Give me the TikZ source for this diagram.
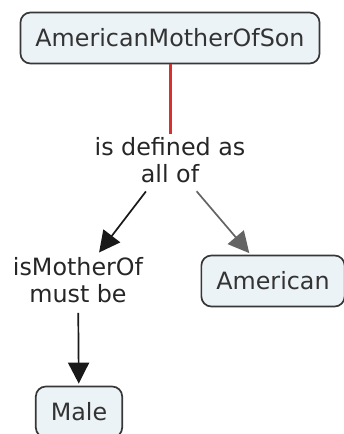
\documentclass[tikz,border=0pt]{standalone}
\usepackage{fontspec}
\setmainfont{DejaVu Sans}
\usetikzlibrary{arrows.meta,positioning}
\definecolor{cmfill}{RGB}{236,243,246}
\definecolor{cmedge}{RGB}{55,55,55}
\definecolor{cmred}{RGB}{214,48,48}
\definecolor{cmgray}{RGB}{100,100,100}

\begin{document}
\begin{tikzpicture}[x=1pt,y=-1pt,font=\fontsize{23.8}{27}\selectfont,
    concept/.style={draw=cmedge,line width=1.7pt,fill=cmfill,rounded corners=10pt,
      inner xsep=15pt,minimum height=51pt,text=black!80},
    phrase/.style={align=center,inner sep=3pt,text=black!85},
    link/.style={line width=1.7pt,-{Triangle[length=21pt,width=21pt]},shorten >=2pt,shorten <=7pt}]
    \useasboundingbox (0,0) rectangle (343,434);
    \node[concept] (amos) at (170,38) {AmericanMotherOfSon};
    \node[phrase] (defas) at (170,160) {is defined as\\all of};
    \node[phrase] (ismother) at (78,280) {isMotherOf\\must be};
    \node[concept] (american) at (273,281) {American};
    \node[concept] (male) at (79,412) {Male};
    \draw[cmred,line width=3pt] (amos) -- (defas);
    \draw[link,black!90] (defas) -- (ismother);
    \draw[link,cmgray] (defas) -- (american);
    \draw[link,black!90] (ismother) -- (male);
  \end{tikzpicture}
\end{document}
